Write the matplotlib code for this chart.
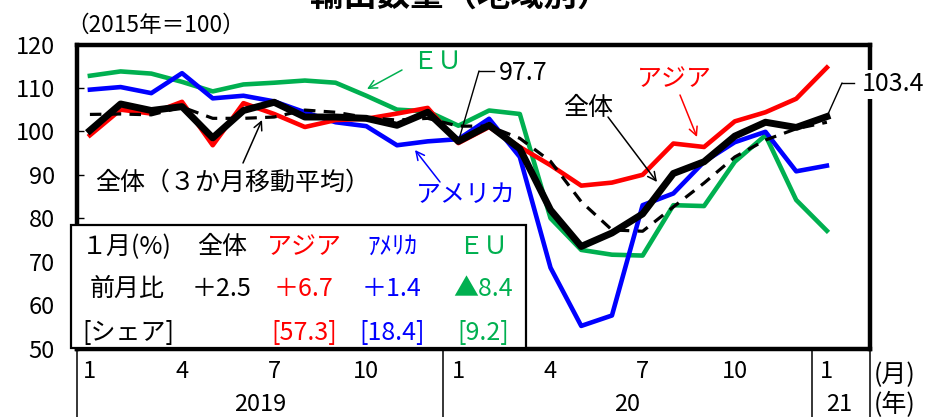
import matplotlib.pyplot as plt
from matplotlib.lines import Line2D
from matplotlib.patches import Rectangle

plt.rcParams['font.family'] = ['Noto Sans CJK JP', 'DejaVu Sans']

# 2019年1月～2021年1月（2015年＝100）
total = [100.2, 106.3, 104.8, 105.7, 98.5, 104.8, 106.7, 103.3, 103.3, 103.0, 101.4, 104.4,
         97.7, 101.4, 96.0, 81.9, 73.5, 76.6, 81.0, 90.3, 93.0, 98.9, 102.1, 100.9, 103.4]
total_ma3 = [103.9, 104.0, 103.8, 105.6, 103.0, 103.0, 103.3, 104.9, 104.4, 103.2, 102.6, 103.0,
             101.2, 101.2, 98.4, 93.1, 83.8, 77.3, 77.0, 82.6, 88.1, 94.1, 98.0, 100.6, 102.1]
asia = [99.1, 105.0, 104.1, 106.8, 96.8, 106.5, 104.0, 101.0, 102.6, 102.9, 104.1, 105.4,
        97.3, 101.0, 96.4, 92.2, 87.5, 88.2, 90.0, 97.2, 96.4, 102.3, 104.4, 107.5, 114.7]
usa = [109.6, 110.2, 108.8, 113.4, 107.6, 108.2, 106.9, 104.4, 102.1, 101.2, 96.8, 97.7,
       98.2, 102.9, 94.1, 68.6, 55.2, 57.6, 83.0, 85.7, 93.0, 97.5, 99.9, 90.8, 92.1]
eu = [112.8, 113.8, 113.3, 111.4, 109.2, 110.8, 111.2, 111.7, 111.2, 108.2, 105.0, 104.6,
      101.3, 104.8, 104.0, 80.0, 72.7, 71.6, 71.4, 83.0, 82.8, 93.0, 99.1, 84.2, 77.1]

month_pos = [0, 3, 6, 9, 12, 15, 18, 21, 24]
month_labels = ['1', '4', '7', '10', '1', '4', '7', '10', '1']
year_pos = [5.54, 17.5, 24.4]
year_labels = ['2019', '20', '21']
year_breaks = [-0.42, 11.5, 23.5, 25.42]

RED, BLUE, GREEN = '#FF0000', '#0000FF', '#00B050'

W, H = 928, 417


def F(px, py):
    # ピクセル位置 -> figure fraction
    return (px / W, 1 - py / H)


fig = plt.figure(figsize=(W / 100, H / 100), dpi=100)
ax = fig.add_axes([77 / W, 1 - 348.5 / H, (870.5 - 77) / W, (348.5 - 44.5) / H])

x = list(range(len(total)))
ax.plot(x, eu, color=GREEN, lw=3.3, zorder=2)
ax.plot(x, usa, color=BLUE, lw=3.3, zorder=2.2)
ax.plot(x, asia, color=RED, lw=3.3, zorder=2.4)
ax.plot(x, total_ma3, color='black', lw=2.3, dashes=(3.6, 2.6), zorder=2.6)
ax.plot(x, total, color='black', lw=5, zorder=5)

ax.set_xlim(-0.42, 25.42)
ax.set_ylim(50, 120)
ax.set_yticks(range(50, 121, 10))
ax.set_xticks([])
ax.tick_params(axis='y', direction='in', length=5, width=1, labelsize=17, pad=16)
for s in ax.spines.values():
    s.set_linewidth(3.2)

# 横軸（月・年）
xt = ax.get_xaxis_transform()
for p, lab in zip(month_pos, month_labels):
    ax.text(p, -0.076, lab, transform=xt, ha='center', va='center', fontsize=17)
for p, lab in zip(year_pos, year_labels):
    ax.text(p, -0.183, lab, transform=xt, ha='center', va='center', fontsize=17)
for b in year_breaks:
    ax.plot([b, b], [0, -0.23], transform=xt, color='black', lw=1.1, clip_on=False)
fig.text(*F(874, 375), '(月)', ha='left', va='center', fontsize=18)
fig.text(*F(874, 405), '(年)', ha='left', va='center', fontsize=18)

# タイトル
fig.text(*F(460, 6), '輸出数量（地域別）', ha='center', va='baseline', fontsize=24, fontweight='bold')
fig.text(*F(66, 25), '（2015年＝100）', ha='left', va='center', fontsize=16.3)

# 系列名と矢印
arrow = dict(arrowstyle='->,head_length=0.6,head_width=0.3', lw=1.1, shrinkA=0, shrinkB=0)


def label(txt, pos, color, tail, tip, size=18):
    fig.text(*F(*pos), txt, ha='center', va='center', fontsize=size, color=color)
    ax.annotate('', xy=F(*tip), xycoords='figure fraction', xytext=F(*tail),
                textcoords='figure fraction', arrowprops=dict(arrow, color=color),
                annotation_clip=False, zorder=6)


label('ＥＵ', (437, 62), GREEN, (402, 70), (367, 89))
label('アメリカ', (466, 195), BLUE, (440, 182), (415, 150))
label('アジア', (674, 79), RED, (680, 95), (697, 137))
label('全体', (588, 108), 'black', (608, 117), (657, 182))
label('全体（３か月移動平均）', (233, 183), 'black', (243, 163), (262, 120))

# 数値ラベル
fig.text(*F(499, 73), f'{total[12]:.1f}', ha='left', va='center', fontsize=18)
fig.add_artist(Line2D([F(479, 71)[0], F(494, 71)[0]], [F(479, 71)[1], F(494, 71)[1]], color='black', lw=1))
ax.annotate('', xy=(12, total[12]), xytext=F(479, 71), textcoords='figure fraction',
            arrowprops=dict(arrowstyle='-', lw=1, color='black', shrinkA=0, shrinkB=0), zorder=4)

fig.text(*F(862, 84), f'{total[24]:.1f}', ha='left', va='center', fontsize=18, zorder=7,
         bbox=dict(facecolor='white', edgecolor='none', pad=1))
fig.add_artist(Line2D([F(842, 83)[0], F(854, 83)[0]], [F(842, 83)[1], F(854, 83)[1]], color='black', lw=1))
ax.annotate('', xy=(24, total[24]), xytext=F(842, 83), textcoords='figure fraction',
            arrowprops=dict(arrowstyle='-', lw=1, color='black', shrinkA=0, shrinkB=0), zorder=4)

# 1月の表
box = Rectangle(F(71, 348), 455 / W, 123 / H, transform=fig.transFigure,
                facecolor='white', edgecolor='black', lw=1.6, zorder=6)
fig.add_artist(box)

cols = [222, 304, 392, 483]
colors = ['black', RED, BLUE, GREEN]
heads = ['全体', 'アジア', 'ｱﾒﾘｶ', 'ＥＵ']
mom = ['＋2.5', '＋6.7', '＋1.4', '▲8.4']
share = ['', '[57.3]', '[18.4]', '[9.2]']

fig.text(*F(82, 247), '１月(%)', ha='left', va='center', fontsize=18, zorder=7)
fig.text(*F(127, 289), '前月比', ha='center', va='center', fontsize=18, zorder=7)
fig.text(*F(128, 333), '[シェア]', ha='center', va='center', fontsize=18, zorder=7)
for cx, c, h, m, s in zip(cols, colors, heads, mom, share):
    fig.text(*F(cx, 247), h, ha='center', va='center', fontsize=18, color=c, zorder=7)
    fig.text(*F(cx, 289), m, ha='center', va='center', fontsize=18, color=c, zorder=7)
    if s:
        fig.text(*F(cx, 333), s, ha='center', va='center', fontsize=18, color=c, zorder=7)

plt.savefig('out.png', dpi=100)
